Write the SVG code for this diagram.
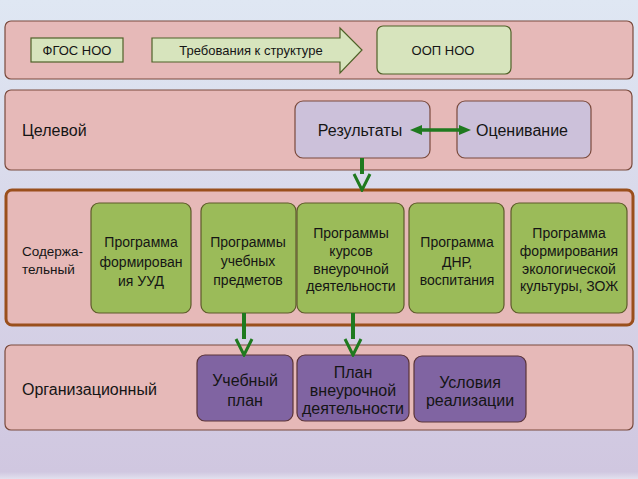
<svg xmlns="http://www.w3.org/2000/svg" width="638" height="479" viewBox="0 0 638 479">
<defs>
<linearGradient id="bg" x1="0" y1="0" x2="0" y2="1">
<stop offset="0" stop-color="#dfe7f3"/>
<stop offset="0.6" stop-color="#d6d3e7"/>
<stop offset="0.985" stop-color="#d0c7e0"/>
<stop offset="1" stop-color="#e2e0ee"/>
</linearGradient>
<marker id="vhead" viewBox="0 0 20 20" refX="2" refY="10" markerWidth="20" markerHeight="20" markerUnits="userSpaceOnUse" orient="auto">
<path d="M2,2 L18,10 L2,18" fill="none" stroke="#1f7a1f" stroke-width="3"/>
</marker>
<marker id="fhead" viewBox="0 0 12 10" refX="1" refY="5" markerWidth="12" markerHeight="10" markerUnits="userSpaceOnUse" orient="auto-start-reverse">
<path d="M0,0 L12,5 L0,10 z" fill="#1f7a1f"/>
</marker>
</defs>
<style>
text{font-family:"Liberation Sans",Arial,sans-serif;fill:#151515}
.band{fill:#e6b9b8;stroke:#7a4a3c;stroke-width:1.2}
.band3{fill:#e6b9b8;stroke:#9a4f1c;stroke-width:3}
.lg{fill:#d7e4bd;stroke:#4f6228;stroke-width:1.2}
.lav{fill:#ccc1da;stroke:#7a4a3c;stroke-width:1.2}
.grn{fill:#9bbb59;stroke:#5e5a2a;stroke-width:1.2}
.pur{fill:#8064a2;stroke:#5a3438;stroke-width:1.2}
.t13{font-size:13px;text-anchor:middle}
.t14{font-size:14px;text-anchor:middle}
.t16{font-size:16px;text-anchor:middle}
.lbl{font-size:16px}
.conn{stroke:#1f7a1f;fill:none}
</style>
<rect width="638" height="479" fill="url(#bg)"/>

<g id="band-top">
<rect class="band" x="5" y="21" width="628" height="58" rx="6"/>
</g>
<g id="band-target">
<rect class="band" x="5" y="90" width="627" height="80" rx="6"/>
<text class="lbl" x="22" y="136">Целевой</text>
</g>
<g id="band-content">
<rect class="band3" x="6" y="190" width="627" height="135" rx="6"/>
<text font-size="13.5" x="22" y="256">Содержа-</text>
<text font-size="13.5" x="22" y="274">тельный</text>
</g>
<g id="band-org">
<rect class="band" x="5" y="345" width="628" height="85" rx="6"/>
<text class="lbl" x="22" y="395">Организационный</text>
</g>

<g id="fgos">
<rect class="lg" x="31" y="38" width="92" height="24"/>
<text class="t13" x="77" y="55">ФГОС НОО</text>
</g>
<g id="req-arrow">
<polygon class="lg" points="152,38 340,38 340,28 362,50 340,73 340,62 152,62"/>
<text class="t13" x="251" y="55">Требования к структуре</text>
</g>
<g id="oop">
<rect class="lg" x="377" y="26" width="134" height="48" rx="6" stroke="#76923c"/>
<text class="t13" x="443" y="55">ООП НОО</text>
</g>

<g id="results">
<rect class="lav" x="295" y="101" width="135" height="57" rx="8"/>
<text class="t16" x="360" y="136">Результаты</text>
</g>
<g id="evaluation">
<rect class="lav" x="457" y="101" width="134" height="57" rx="8"/>
<text class="t16" x="522" y="136">Оценивание</text>
</g>

<g id="uud">
<rect class="grn" x="91" y="203" width="100" height="110" rx="8"/>
<text class="t14" x="141" y="247">Программа</text>
<text class="t14" x="141" y="267">формирован</text>
<text class="t14" x="141" y="286">ия УУД</text>
</g>
<g id="subjects">
<rect class="grn" x="201" y="203" width="95" height="110" rx="8"/>
<text class="t14" x="248" y="247">Программы</text>
<text class="t14" x="248" y="266">учебных</text>
<text class="t14" x="248" y="285">предметов</text>
</g>
<g id="extracurr">
<rect class="grn" x="297" y="203" width="107" height="110" rx="8"/>
<text class="t14" x="351" y="238">Программы</text>
<text class="t14" x="351" y="256">курсов</text>
<text class="t14" x="351" y="274">внеурочной</text>
<text class="t14" x="351" y="291">деятельности</text>
</g>
<g id="dnr">
<rect class="grn" x="409" y="203" width="95" height="110" rx="8"/>
<text class="t14" x="457" y="247">Программа</text>
<text class="t14" x="457" y="267">ДНР,</text>
<text class="t14" x="457" y="285">воспитания</text>
</g>
<g id="eco">
<rect class="grn" x="511" y="203" width="116" height="110" rx="8"/>
<text class="t14" x="569" y="238">Программа</text>
<text class="t14" x="569" y="256">формирования</text>
<text class="t14" x="569" y="274">экологической</text>
<text class="t14" x="569" y="291">культуры, ЗОЖ</text>
</g>

<g id="plan">
<rect class="pur" x="197" y="355" width="96" height="66" rx="8"/>
<text class="t16" x="245" y="386">Учебный</text>
<text class="t16" x="245" y="406">план</text>
</g>
<g id="extra-plan">
<rect class="pur" x="297" y="355" width="112" height="66" rx="8"/>
<text class="t16" x="353" y="378">План</text>
<text class="t16" x="353" y="396">внеурочной</text>
<text class="t16" x="353" y="414">деятельности</text>
</g>
<g id="conditions">
<rect class="pur" x="414" y="356" width="112" height="66" rx="8"/>
<text class="t16" x="470" y="388">Условия</text>
<text class="t16" x="470" y="406">реализации</text>
</g>

<g id="connectors">
<line class="conn" x1="421" y1="130" x2="460" y2="130" stroke-width="3.5" marker-start="url(#fhead)" marker-end="url(#fhead)"/>
<line class="conn" x1="362" y1="158" x2="362" y2="174" stroke-width="4" marker-end="url(#vhead)"/>
<line class="conn" x1="244" y1="313" x2="244" y2="339" stroke-width="4" marker-end="url(#vhead)"/>
<line class="conn" x1="353" y1="313" x2="353" y2="339" stroke-width="4" marker-end="url(#vhead)"/>
</g>
</svg>
